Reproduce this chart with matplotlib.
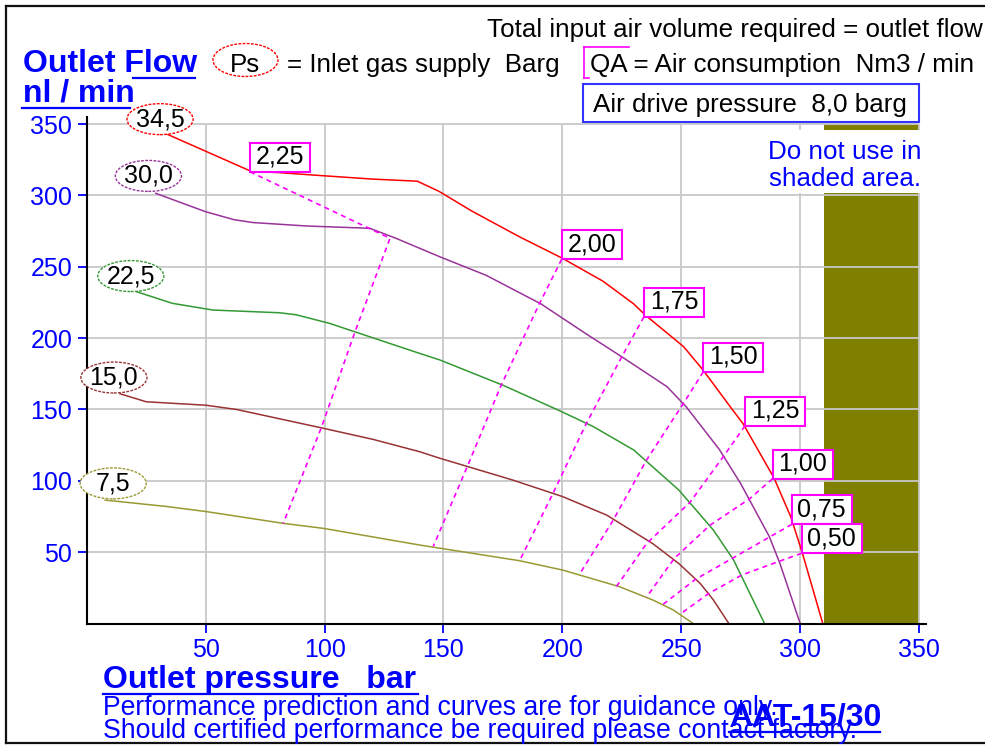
import matplotlib
matplotlib.use("Agg")
import matplotlib.pyplot as plt
from matplotlib.lines import Line2D
from matplotlib.patches import Ellipse, Rectangle

plt.rcParams["font.family"] = ["Liberation Sans", "DejaVu Sans"]

W, H = 985, 745

# Ps curves: outlet pressure (bar) -> outlet flow (nl/min)
ps_labels = ["34,5", "30,0", "22,5", "15,0", "7,5"]
ps_colors = ["#ff0000", "#993399", "#339933", "#993333", "#999933"]

ps345_x = [31, 69, 81, 98, 120, 139, 148, 162, 182, 200, 217, 230, 235, 251, 259, 271, 276, 289, 296, 301, 309.5]
ps345_y = [345, 317, 316, 314, 311.5, 310, 303, 289, 271, 256, 240, 224, 216, 194, 178, 151, 140, 102, 75, 49, 0]

ps300_x = [29, 50, 62, 70, 92.5, 119, 130, 148.5, 168, 191, 210, 224, 244, 252, 266, 275, 287, 291.5, 300]
ps300_y = [301.5, 288.6, 283, 281, 278.6, 277, 270, 257, 244, 224, 203, 188, 166, 152, 122, 98, 61, 42, 0]

ps225_x = [21, 36, 53, 81, 88, 102, 140, 148.5, 175, 199, 213, 230, 249, 263.5, 272, 285]
ps225_y = [232.5, 224.4, 219.7, 217.8, 216.4, 210.4, 189.3, 184.7, 167, 149, 138, 121.6, 93.5, 65.5, 44.5, 0]

ps150_x = [14, 25, 50, 63, 99, 120.5, 140, 148.5, 179, 200, 218.6, 238, 249, 258, 263.5, 270]
ps150_y = [161, 155.4, 153, 150, 137, 129, 120.4, 115.8, 100.6, 89, 76, 56, 42, 28, 16.5, 0]

ps75_x = [7.7, 33.6, 50.4, 82.6, 99.4, 140, 182, 200, 224, 238, 246.6, 255]
ps75_y = [86.5, 82, 78.4, 70.2, 66.7, 55, 44, 37.5, 25.8, 16.5, 9.5, 0]

# QA = air consumption lines (Nm3/min), points where they cross the Ps curves
qa_labels = ["2,25", "2,00", "1,75", "1,50", "1,25", "1,00", "0,75", "0,50"]
qa225_x = [68.6, 127.5, 112.8, 98.8, 82.6]
qa225_y = [316.6, 270, 204.5, 138, 70.2]
qa200_x = [199.7, 190, 174, 160, 145.7]
qa200_y = [255.3, 223, 166, 110, 54]
qa175_x = [234.3, 225, 210, 196, 182]
qa175_y = [215, 187, 140, 91, 44]
qa150_x = [259.3, 250.8, 235.4, 221.4, 207.4]
qa150_y = [176.5, 154, 114.6, 72.5, 35]
qa125_x = [276.8, 267.7, 253.7, 235.4, 222.8]
qa125_y = [138.6, 117, 85, 56, 26]
qa100_x = [288.4, 278.8, 262, 247, 235.4]
qa100_y = [101.5, 87.5, 68.8, 45.5, 18.5]
qa075_x = [296.5, 287.3, 271.5, 256, 242]
qa075_y = [69.5, 60.8, 45.7, 31, 13]
qa050_x = [300.6, 291, 275.5, 261.5, 249.5]
qa050_y = [49.2, 43.5, 34, 21, 6.5]

ticks = [50, 100, 150, 200, 250, 300, 350]


def fx(px):
    return px / W


def fy(py):
    return 1 - py / H


fig = plt.figure(figsize=(W / 100, H / 100), dpi=100, facecolor="white")
ax = fig.add_axes([fx(86.8), fy(623.5), (926.2 - 86.8) / W, (623.5 - 117) / H])
ax.set_xlim(0, 353)
ax.set_ylim(0, 355)

# shaded "do not use" zone and grid
ax.add_patch(Rectangle((310, 0), 40, 350, facecolor="#808000", edgecolor="none", zorder=0.5))
ax.vlines(ticks, 0, 350, color="#c8c8c8", linewidth=1.3, zorder=1)
ax.hlines(ticks, 0, 350, color="#c8c8c8", linewidth=1.3, zorder=1)

ps_series = [(ps345_x, ps345_y), (ps300_x, ps300_y), (ps225_x, ps225_y), (ps150_x, ps150_y), (ps75_x, ps75_y)]
for (xs, ys), color in zip(ps_series, ps_colors):
    ax.plot(xs, ys, color=color, linewidth=1.1, zorder=2)

qa_series = [(qa225_x, qa225_y), (qa200_x, qa200_y), (qa175_x, qa175_y), (qa150_x, qa150_y),
             (qa125_x, qa125_y), (qa100_x, qa100_y), (qa075_x, qa075_y), (qa050_x, qa050_y)]
for (xs, ys), label in zip(qa_series, qa_labels):
    ax.plot(xs, ys, color="#ff00ff", linewidth=1.2, linestyle=(0, (3, 2.5)), zorder=2)
    ax.add_patch(Rectangle((xs[0], ys[0]), 25.2, 20.3, facecolor="white", edgecolor="#ff00ff",
                           linewidth=1.5, zorder=4, clip_on=False))
    ax.text(xs[0] + 12.6, ys[0] + 10.4, label, ha="center", va="center", fontsize=18,
            color="black", zorder=5, clip_on=False)

# Ps value ellipses at the start of each curve
ellipse_pos = [(30.8, 353.5), (25.9, 313.7), (18.5, 243.5), (11.4, 172.4), (11.1, 98.2)]
for (ex, ey), label, color in zip(ellipse_pos, ps_labels, ps_colors):
    ax.add_patch(Ellipse((ex, ey), 27.8, 21.7, facecolor="white", edgecolor=color, linewidth=1.0,
                         linestyle=(0, (2, 1)), zorder=4, clip_on=False))
    ax.text(ex, ey, label, ha="center", va="center", fontsize=18, color="black", zorder=5, clip_on=False)

for side in ["top", "right"]:
    ax.spines[side].set_visible(False)
for side in ["left", "bottom"]:
    ax.spines[side].set_color("black")
    ax.spines[side].set_linewidth(1.5)
ax.set_xticks(ticks)
ax.set_yticks(ticks)
ax.tick_params(axis="both", colors="#0000ff", labelcolor="#0000ff", length=6.5, width=1.3,
               labelsize=18, pad=4)

# texts around the plot
blue = "#0000ff"
fig.text(fx(487), fy(37), "Total input air volume required = outlet flow", fontsize=18.7, color="black", va="baseline")
fig.text(fx(23), fy(72), "Outlet Flow", fontsize=23, fontweight="bold", color=blue, va="baseline")
fig.text(fx(23), fy(102), "nl / min", fontsize=23, fontweight="bold", color=blue, va="baseline")
fig.add_artist(Line2D([fx(133), fx(195)], [fy(77.5), fy(77.5)], color=blue, linewidth=1.6))
fig.add_artist(Line2D([fx(22), fx(130)], [fy(107.5), fy(107.5)], color=blue, linewidth=1.6))

fig.add_artist(Ellipse((fx(245.5), fy(60)), 65 / W, 33 / H, transform=fig.transFigure, facecolor="none",
                       edgecolor="#ff0000", linewidth=1.0, linestyle=(0, (2, 1))))
fig.text(fx(245.5), fy(72), "Ps", fontsize=18.7, color="black", ha="center", va="baseline")
fig.text(fx(287), fy(72), "= Inlet gas supply  Barg", fontsize=18.7, color="black", va="baseline")

for (x0, y0, x1, y1) in [(584, 47, 584, 78), (584, 47, 629, 47), (584, 78, 589, 78)]:
    fig.add_artist(Line2D([fx(x0), fx(x1)], [fy(y0), fy(y1)], color="#ff00ff", linewidth=1.2))
fig.text(fx(590), fy(72), "QA = Air consumption  Nm3 / min", fontsize=18.7, color="black", va="baseline")

fig.add_artist(Rectangle((fx(583), fy(122)), 336 / W, 38 / H, transform=fig.transFigure,
                         facecolor="white", edgecolor="#3333ff", linewidth=1.5))
fig.text(fx(593), fy(112), "Air drive pressure  8,0 barg", fontsize=18.7, color="black", va="baseline")

fig.add_artist(Rectangle((fx(763), fy(193)), 159 / W, 63 / H, transform=fig.transFigure,
                         facecolor="white", edgecolor="none"))
fig.text(fx(921), fy(159), "Do not use in", fontsize=18.7, color=blue, ha="right", va="baseline")
fig.text(fx(921), fy(186), "shaded area.", fontsize=18.7, color=blue, ha="right", va="baseline")

fig.text(fx(103), fy(688), "Outlet pressure   bar", fontsize=23, fontweight="bold", color=blue, va="baseline")
fig.add_artist(Line2D([fx(103), fx(418)], [fy(693.5), fy(693.5)], color=blue, linewidth=1.6))
fig.text(fx(103), fy(715), "Performance prediction and curves are for guidance only.", fontsize=19.2,
         color=blue, va="baseline")
fig.text(fx(103), fy(738.5), "Should certified performance be required please contact factory.", fontsize=19.2,
         color=blue, va="baseline")
fig.text(fx(729), fy(725), "AAT-15/30", fontsize=23, fontweight="bold", color=blue, va="baseline")
fig.add_artist(Line2D([fx(729), fx(880)], [fy(732), fy(732)], color=blue, linewidth=1.6))

# outer frame (left, top, bottom)
for (x0, y0, x1, y1) in [(6, 6, 6, 743), (6, 6, 990, 6), (6, 743, 990, 743)]:
    fig.add_artist(Line2D([fx(x0), fx(x1)], [fy(y0), fy(y1)], color="#111111", linewidth=1.6))

fig.savefig("out.png", dpi=100)
plt.close(fig)
